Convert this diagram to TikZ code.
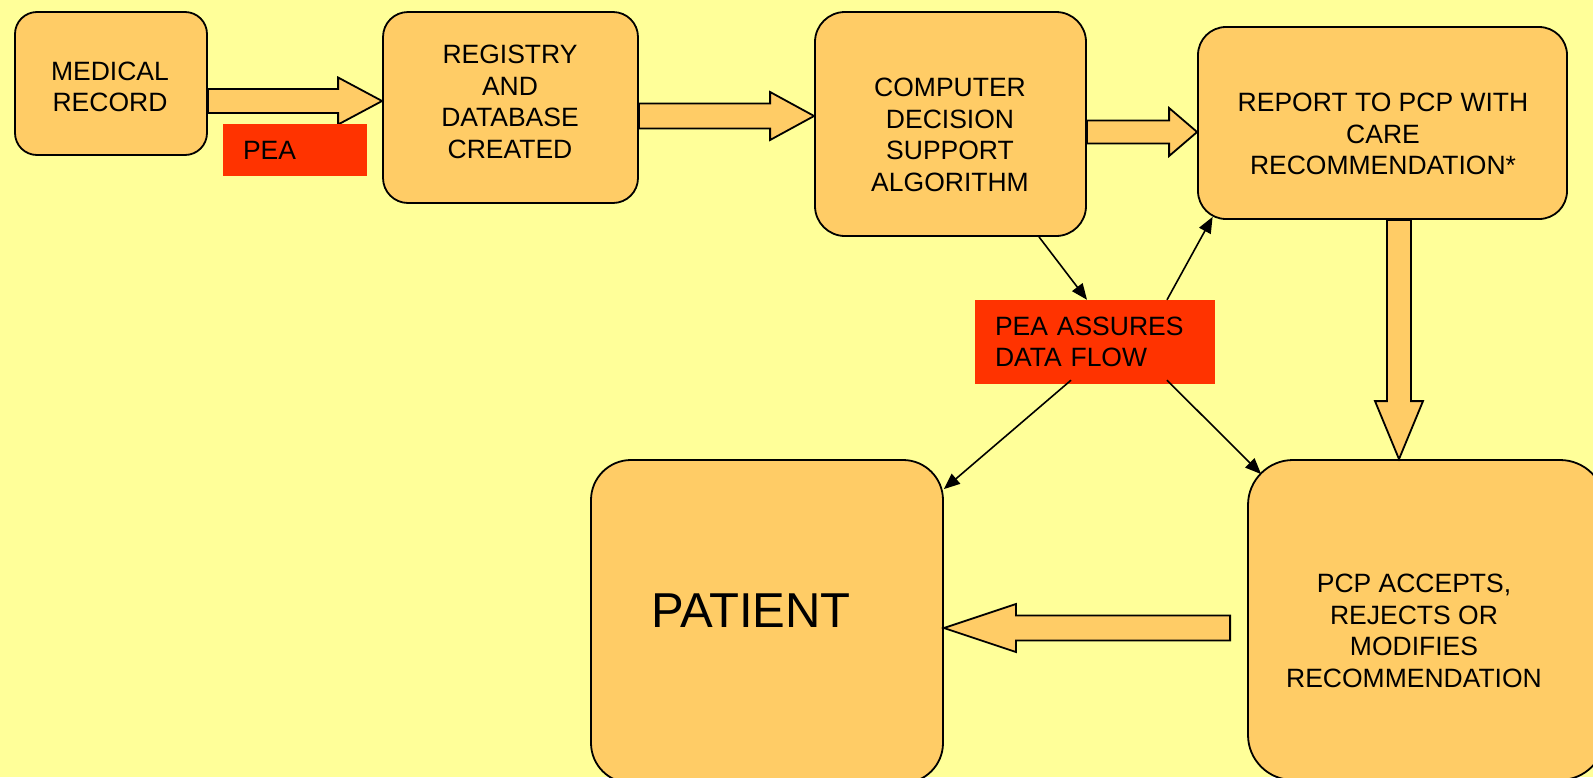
\documentclass[tikz,border=0pt]{standalone}
\usepackage{fontspec}
\setmainfont{Liberation Sans}
\usetikzlibrary{arrows.meta,calc}
\definecolor{bgyellow}{HTML}{FFFF99}
\definecolor{boxorange}{HTML}{FFCC66}
\definecolor{peared}{HTML}{FF3300}
\tikzset{
  box/.style={draw=black, line width=1.8pt, fill=boxorange, inner sep=0pt},
  txt/.style={align=center, inner sep=0pt, font=\fontsize{26.5}{31.7}\selectfont},
  redbox/.style={fill=peared, inner sep=0pt, inner xsep=20pt, align=left,
     font=\fontsize{26.5}{31.7}\selectfont},
  barrow/.style={draw=black, line width=1.8pt, fill=boxorange, line join=miter},
  conn/.style={draw=black, line width=1.6pt, -{Triangle[length=16pt,width=13pt]}}
}
% horizontal block arrow: #1 tail, #2 tip, #3 signed head length, #4 shaft half width, #5 head half width
\newcommand\blockarrowH[5]{%
  \draw[barrow] let \p1=(#1), \p2=(#2), \n1={\x2-(#3)} in
   ({\x1},{\y2+#4}) -- ({\n1},{\y2+#4}) -- ({\n1},{\y2+#5}) -- ({\x2},{\y2})
   -- ({\n1},{\y2-#5}) -- ({\n1},{\y2-#4}) -- ({\x1},{\y2-#4}) -- cycle;}
% vertical (downward) block arrow
\newcommand\blockarrowV[5]{%
  \draw[barrow] let \p1=(#1), \p2=(#2), \n1={\y2+#3} in
   ({\x1+#4},{\y1}) -- ({\x1+#4},{\n1}) -- ({\x1+#5},{\n1}) -- ({\x1},{\y2})
   -- ({\x1-#5},{\n1}) -- ({\x1-#4},{\n1}) -- ({\x1-#4},{\y1}) -- cycle;}
\begin{document}
\begin{tikzpicture}[x=1pt,y=-1pt]
\useasboundingbox (0,0) rectangle (1593,777);
\clip (0,0) rectangle (1593,777);
\fill[bgyellow] (0,0) rectangle (1593,777);

% boxes
\node[box, rounded corners=22pt, minimum width=192pt, minimum height=143pt] (med) at (111,83.5) {};
\node[box, rounded corners=25pt, minimum width=255pt, minimum height=191pt] (reg) at (510.5,107.5) {};
\node[box, rounded corners=30pt, minimum width=271pt, minimum height=224pt] (cds) at (950.5,124) {};
\node[box, rounded corners=28pt, minimum width=369pt, minimum height=192pt] (rep) at (1382.5,123) {};
\node[box, rounded corners=40pt, minimum width=352pt, minimum height=323pt] (pat) at (767,621.5) {};
\node[box, rounded corners=45pt, minimum width=357pt, minimum height=320pt] (pcp) at (1426.5,620) {};

% box texts
\node[txt] (medt) at (110,87) {MEDICAL\\RECORD};
\node[txt] (regt) at (510,102) {REGISTRY\\AND\\DATABASE\\CREATED};
\node[txt] (cdst) at (950,135) {COMPUTER\\DECISION\\SUPPORT\\ALGORITHM};
\node[txt] (rept) at (1383,134) {REPORT TO PCP WITH\\CARE\\RECOMMENDATION*};
\node[txt, font=\fontsize{49}{56}\selectfont] (patt) at (751,611) {PATIENT};
\node[txt] (pcpt) at (1414,631) {PCP ACCEPTS,\\REJECTS OR\\MODIFIES\\RECOMMENDATION};

% block arrows
\coordinate (a1s) at ([yshift=-17.5pt]med.east);
\coordinate (a1e) at ([yshift=6.5pt]reg.west);
\blockarrowH{a1s}{a1e}{44pt}{12pt}{23.5pt}
\coordinate (a2s) at (reg.east);
\coordinate (a2e) at ([yshift=8pt]cds.west);
\blockarrowH{a2s}{a2e}{44pt}{12.5pt}{24pt}
\coordinate (a3s) at (cds.east);
\coordinate (a3e) at ([yshift=-9pt]rep.west);
\blockarrowH{a3s}{a3e}{28pt}{11.5pt}{24pt}
\coordinate (a4s) at ([xshift=16.5pt]rep.south);
\coordinate (a4e) at ([xshift=-27.5pt]pcp.north);
\blockarrowV{a4s}{a4e}{58pt}{12pt}{24pt}
\coordinate (a5s) at ([xshift=-17pt,yshift=-8pt]pcp.west);
\coordinate (a5e) at ([yshift=-6.5pt]pat.east);
\blockarrowH{a5s}{a5e}{-72pt}{12.5pt}{24pt}

% red labels
\node[redbox, text width=104pt, minimum height=52pt] (pea1) at (295,150) {PEA};
\node[redbox, text width=200pt, minimum height=84pt] (pea2) at (1095,342) {PEA ASSURES\\DATA FLOW};

% thin connectors
\draw[conn] ([xshift=88.5pt]cds.south) -- ([xshift=-8pt]pea2.north);
\draw[conn] ([xshift=72pt]pea2.north) -- ([xshift=15.5pt,yshift=3pt]rep.south west);
\draw[conn] ([xshift=-24pt,yshift=4pt]pea2.south) -- ([yshift=-30pt]pat.north east);
\draw[conn] ([xshift=72pt,yshift=4pt]pea2.south) -- ([xshift=14pt,yshift=-15pt]pcp.north west);
\end{tikzpicture}
\end{document}
